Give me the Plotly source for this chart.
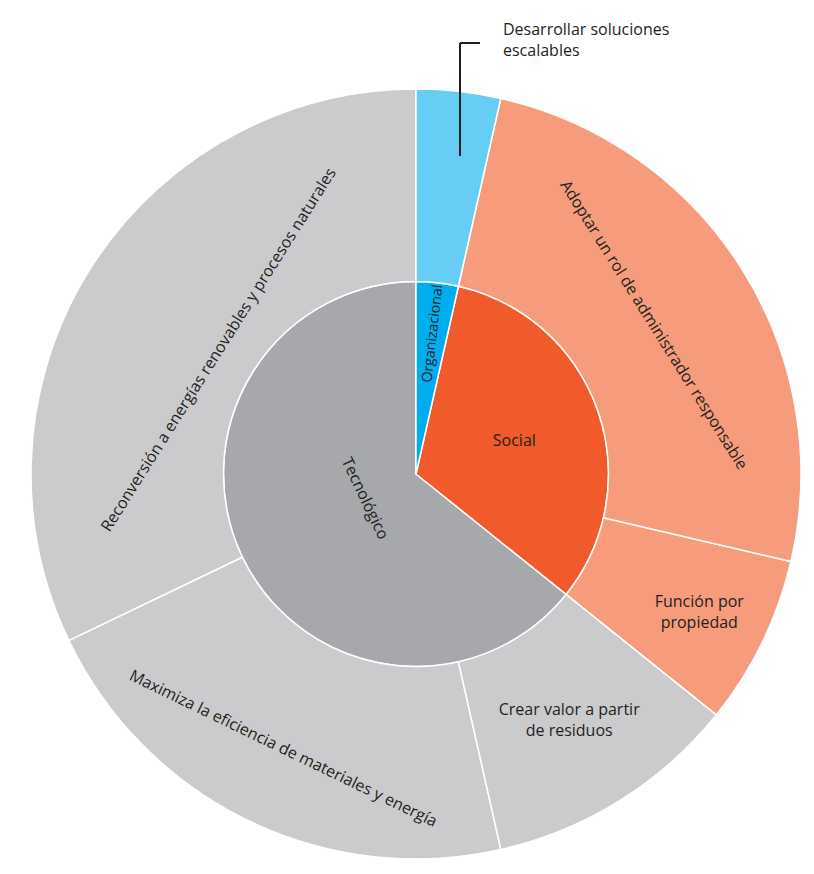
import plotly.graph_objects as go

ids = ["Tecnológico", "Social", "Organizacional",
       "Reconversión", "Maximiza", "Crear", "Función", "Adoptar", "Desarrollar"]
labels = ["Tecnológico", "Social", "Organizacional",
          "Reconversión a energías renovables y procesos naturales",
          "Maximiza la eficiencia de materiales y energía",
          "Crear valor a partir<br>de residuos",
          "Función por<br>propiedad",
          "Adoptar un rol de administrador responsable",
          ""]
parents = ["", "", "", "Tecnológico", "Tecnológico", "Tecnológico", "Social", "Social", "Organizacional"]
values = [64.2, 32.2, 3.53, 32.1, 21.4, 10.7, 7.1, 25.1, 3.53]
colors = ["#a6a8ab", "#f15a2b", "#00aeef", "#cbcbcd", "#cbcbcd", "#cbcbcd", "#f69c7c", "#f69c7c", "#66cdf5"]

fig = go.Figure(go.Sunburst(
    ids=ids, labels=labels, parents=parents, values=values,
    branchvalues="total", sort=False, rotation=90,
    text=labels, textinfo="text",
    marker=dict(colors=colors, line=dict(color="white", width=1.5)),
    leaf=dict(opacity=1),
    insidetextorientation="auto",
    textfont=dict(family="Open Sans", size=16, color="#231f20"),
    hoverinfo="skip",
))

L, T = 23, 81
def px(x): return (x - L) / 770
def py(y): return 1 - (y - T) / 770

fig.add_shape(type="line", xref="paper", yref="paper",
              x0=px(452), y0=py(148), x1=px(452), y1=py(35), line=dict(color="#231f20", width=2))
fig.add_shape(type="line", xref="paper", yref="paper",
              x0=px(452), y0=py(35), x1=px(472), y1=py(35), line=dict(color="#231f20", width=2))
fig.add_annotation(xref="paper", yref="paper", x=px(493), y=py(8), xanchor="left", yanchor="top",
                   text="Desarrollar soluciones<br>escalables", showarrow=False, align="left",
                   font=dict(family="Open Sans", size=16, color="#231f20"))

fig.update_layout(width=814, height=874, margin=dict(l=L, r=21, t=T, b=23),
                  paper_bgcolor="white", showlegend=False)
fig.write_html("out.html")
